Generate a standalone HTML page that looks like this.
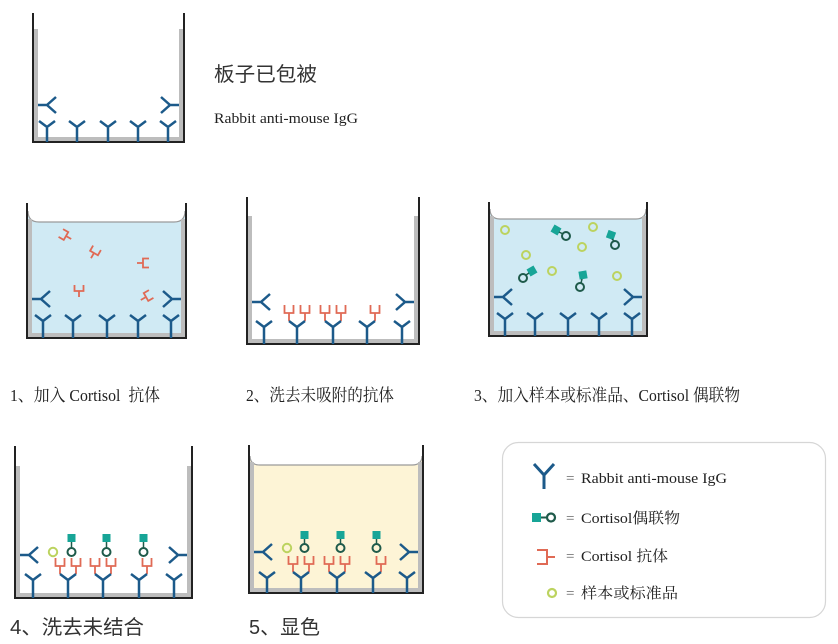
<!DOCTYPE html>
<html><head><meta charset="utf-8"><style>
html,body{margin:0;padding:0;background:#fff;}
svg{display:block;}
.serif{font-family:"Liberation Serif","Noto Serif CJK SC",serif;}
.sans{font-family:"Liberation Sans","Noto Sans CJK SC",sans-serif;}
</style></head><body>
<svg width="838" height="644" viewBox="0 0 838 644" xmlns="http://www.w3.org/2000/svg">
<defs>
<g id="fab"><path d="M0 6V0M-4.5 -6V0H4.5V-6" fill="none" stroke="#e06a55" stroke-width="1.8"/></g>
</defs>

<!-- ============ Well 0 ============ -->
<g>
<rect x="34" y="29" width="4" height="113" fill="#bdbdbd"/>
<rect x="179" y="29" width="4" height="113" fill="#bdbdbd"/>
<rect x="34" y="137" width="149" height="5" fill="#bdbdbd"/>
<polyline points="33,13 33,142 184,142 184,13" fill="none" stroke="#222" stroke-width="2"/>
<path d="M47 142V127M39 121L47 127L55 121M77 142V127M69 121L77 127L85 121M108 142V127M100 121L108 127L116 121M138 142V127M130 121L138 127L146 121M168 142V127M160 121L168 127L176 121M38 105H47M56 97L47 105L56 113M179 105H170M161 97L170 105L161 113" fill="none" stroke="#1c5a8a" stroke-width="2.5"/>
</g>
<text x="214" y="81" class="sans" font-size="20" fill="#333" textLength="103" lengthAdjust="spacingAndGlyphs">板子已包被</text>
<text x="214" y="123" class="serif" font-size="14.5" fill="#222" textLength="144" lengthAdjust="spacingAndGlyphs">Rabbit anti-mouse IgG</text>

<!-- ============ Well 1 ============ -->
<g>
<path d="M28 211Q28 222 39 222H174Q185 222 185 211V337H28Z" fill="#d0eaf4"/>
<path d="M28 211Q28 222 39 222H174Q185 222 185 211" fill="none" stroke="#9a9a9a" stroke-width="1.2"/>
<rect x="28" y="219" width="4" height="119" fill="#bdbdbd"/>
<rect x="181" y="219" width="4" height="119" fill="#bdbdbd"/>
<rect x="28" y="333" width="157" height="5" fill="#bdbdbd"/>
<polyline points="27,203 27,338 186,338 186,203" fill="none" stroke="#222" stroke-width="2"/>
<path d="M43 338V321M35 315L43 321L51 315M73 338V321M65 315L73 321L81 315M107 338V321M99 315L107 321L115 315M138 338V321M130 315L138 321L146 315M171 338V321M163 315L171 321L179 315M32 299H41M50 291L41 299L50 307M181 299H172M163 291L172 299L163 307" fill="none" stroke="#1c5a8a" stroke-width="2.5"/>
<use href="#fab" transform="translate(66,236) rotate(-60)"/>
<use href="#fab" transform="translate(94,253) rotate(30)"/>
<use href="#fab" transform="translate(143,263) rotate(90)"/>
<use href="#fab" transform="translate(79,291)"/>
<use href="#fab" transform="translate(146,297) rotate(60)"/>
</g>

<!-- ============ Well 2 ============ -->
<g>
<rect x="248" y="216" width="4" height="128" fill="#bdbdbd"/>
<rect x="414" y="216" width="4" height="128" fill="#bdbdbd"/>
<rect x="248" y="339" width="170" height="5" fill="#bdbdbd"/>
<polyline points="247,197 247,344 419,344 419,197" fill="none" stroke="#222" stroke-width="2"/>
<path d="M289 321V313M284.5 305V313H293.5V305M305 321V313M300.5 305V313H309.5V305M325 321V313M320.5 305V313H329.5V305M341 321V313M336.5 305V313H345.5V305M375 321V313M370.5 305V313H379.5V305" fill="none" stroke="#e06a55" stroke-width="1.8"/>
<path d="M264 344V327M256 321L264 327L272 321M297 344V327M289 321L297 327L305 321M333 344V327M325 321L333 327L341 321M367 344V327M359 321L367 327L375 321M402 344V327M394 321L402 327L410 321M252 302H261M270 294L261 302L270 310M414 302H405M396 294L405 302L396 310" fill="none" stroke="#1c5a8a" stroke-width="2.5"/>
</g>

<!-- ============ Well 3 ============ -->
<g>
<path d="M490 209Q490 219 500 219H636Q646 219 646 209V335H490Z" fill="#d0eaf4"/>
<path d="M490 209Q490 219 500 219H636Q646 219 646 209" fill="none" stroke="#9a9a9a" stroke-width="1.2"/>
<rect x="490" y="216" width="4" height="120" fill="#bdbdbd"/>
<rect x="642" y="216" width="4" height="120" fill="#bdbdbd"/>
<rect x="490" y="331" width="156" height="5" fill="#bdbdbd"/>
<polyline points="489,202 489,336 647,336 647,202" fill="none" stroke="#222" stroke-width="2"/>
<path d="M505 336V319M497 313L505 319L513 313M535 336V319M527 313L535 319L543 313M568 336V319M560 313L568 319L576 313M599 336V319M591 313L599 319L607 313M632 336V319M624 313L632 319L640 313M494 297H503M512 289L503 297L512 305M642 297H633M624 289L633 297L624 305" fill="none" stroke="#1c5a8a" stroke-width="2.5"/>
<g fill="none" stroke="#bcd35f" stroke-width="2">
<circle cx="505" cy="230" r="4"/><circle cx="593" cy="227" r="4"/><circle cx="582" cy="247" r="4"/>
<circle cx="526" cy="255" r="4"/><circle cx="552" cy="271" r="4"/><circle cx="617" cy="276" r="4"/>
</g>
<g fill="#17a597">
<rect x="552" y="226" width="8" height="8" transform="rotate(30 556 230)"/>
<rect x="607" y="231" width="8" height="8" transform="rotate(20 611 235)"/>
<rect x="528" y="267" width="8" height="8" transform="rotate(-30 532 271)"/>
<rect x="579" y="271" width="8" height="8" transform="rotate(-10 583 275)"/>
</g>
<path d="M559 232L563 234M612 239L614 241M529 273L526 275M582 279L581 283" stroke="#1e5a4a" stroke-width="1.5"/>
<g fill="none" stroke="#1e5a4a" stroke-width="2">
<circle cx="566" cy="236" r="4"/><circle cx="615" cy="245" r="4"/><circle cx="523" cy="278" r="4"/><circle cx="580" cy="287" r="4"/>
</g>
</g>

<!-- captions row 1 -->
<text x="10" y="401" class="serif" font-size="17" fill="#222" textLength="150" lengthAdjust="spacingAndGlyphs">1、加入 Cortisol&#160; 抗体</text>
<text x="246" y="401" class="serif" font-size="17" fill="#222" textLength="148" lengthAdjust="spacingAndGlyphs">2、洗去未吸附的抗体</text>
<text x="474" y="401" class="serif" font-size="17" fill="#222" textLength="266" lengthAdjust="spacingAndGlyphs">3、加入样本或标准品、Cortisol 偶联物</text>

<!-- ============ Well 4 ============ -->
<g>
<rect x="16" y="466" width="4" height="132" fill="#bdbdbd"/>
<rect x="187" y="466" width="4" height="132" fill="#bdbdbd"/>
<rect x="16" y="593" width="175" height="5" fill="#bdbdbd"/>
<polyline points="15,446 15,598 192,598 192,446" fill="none" stroke="#222" stroke-width="2"/>
<path d="M60 574V566M55.5 558V566H64.5V558M76 574V566M71.5 558V566H80.5V558M95 574V566M90.5 558V566H99.5V558M111 574V566M106.5 558V566H115.5V558M147 574V566M142.5 558V566H151.5V558" fill="none" stroke="#e06a55" stroke-width="1.8"/>
<path d="M33 598V580M25 574L33 580L41 574M68 598V580M60 574L68 580L76 574M103 598V580M95 574L103 580L111 574M139 598V580M131 574L139 580L147 574M174 598V580M166 574L174 580L182 574M20 555H29M38 547L29 555L38 563M187 555H178M169 547L178 555L169 563" fill="none" stroke="#1c5a8a" stroke-width="2.5"/>
<circle cx="53" cy="552" r="4.2" fill="none" stroke="#bcd35f" stroke-width="2"/>
<g fill="#17a597"><rect x="67.5" y="534" width="8" height="8"/><rect x="102.5" y="534" width="8" height="8"/><rect x="139.5" y="534" width="8" height="8"/></g>
<path d="M71.5 542V548M106.5 542V548M143.5 542V548" stroke="#1e5a4a" stroke-width="1.5"/>
<g fill="none" stroke="#1e5a4a" stroke-width="2"><circle cx="71.5" cy="552" r="4"/><circle cx="106.5" cy="552" r="4"/><circle cx="143.5" cy="552" r="4"/></g>
</g>
<text x="10" y="634" class="sans" font-size="20" fill="#333" textLength="134" lengthAdjust="spacingAndGlyphs">4、洗去未结合</text>

<!-- ============ Well 5 ============ -->
<g>
<path d="M250 456Q250 465 260 465H412Q422 465 422 456V592H250Z" fill="#fdf4d6"/>
<path d="M250 456Q250 465 260 465H412Q422 465 422 456" fill="none" stroke="#9a9a9a" stroke-width="1.2"/>
<rect x="250" y="462" width="4" height="131" fill="#bdbdbd"/>
<rect x="418" y="462" width="4" height="131" fill="#bdbdbd"/>
<rect x="250" y="588" width="172" height="5" fill="#bdbdbd"/>
<polyline points="249,445 249,593 423,593 423,445" fill="none" stroke="#222" stroke-width="2"/>
<path d="M293 572V564M288.5 556V564H297.5V556M309 572V564M304.5 556V564H313.5V556M329 572V564M324.5 556V564H333.5V556M345 572V564M340.5 556V564H349.5V556M381 572V564M376.5 556V564H385.5V556" fill="none" stroke="#e06a55" stroke-width="1.8"/>
<path d="M267 593V578M259 572L267 578L275 572M301 593V578M293 572L301 578L309 572M337 593V578M329 572L337 578L345 572M373 593V578M365 572L373 578L381 572M407 593V578M399 572L407 578L415 572M254 552H263M272 544L263 552L272 560M418 552H409M400 544L409 552L400 560" fill="none" stroke="#1c5a8a" stroke-width="2.5"/>
<circle cx="287" cy="548" r="4.2" fill="none" stroke="#bcd35f" stroke-width="2"/>
<g fill="#17a597"><rect x="300.5" y="531" width="8" height="8"/><rect x="336.5" y="531" width="8" height="8"/><rect x="372.5" y="531" width="8" height="8"/></g>
<path d="M304.5 539V544M340.5 539V544M376.5 539V544" stroke="#1e5a4a" stroke-width="1.5"/>
<g fill="none" stroke="#1e5a4a" stroke-width="2"><circle cx="304.5" cy="548" r="4"/><circle cx="340.5" cy="548" r="4"/><circle cx="376.5" cy="548" r="4"/></g>
</g>
<text x="249" y="634" class="sans" font-size="20" fill="#333" textLength="71" lengthAdjust="spacingAndGlyphs">5、显色</text>

<!-- ============ Legend ============ -->
<rect x="502.5" y="442.5" width="323" height="175" rx="16" ry="16" fill="#fff" stroke="#d6d6d6" stroke-width="1.2"/>
<path d="M544 489V475M534 464L544 475L554 464" fill="none" stroke="#1c5a8a" stroke-width="3"/>
<rect x="532" y="513" width="9" height="9" fill="#17a597"/>
<path d="M541 517.5H547" stroke="#1e5a4a" stroke-width="2"/>
<circle cx="551" cy="517.5" r="4" fill="none" stroke="#1e5a4a" stroke-width="2.2"/>
<path d="M537 550H547V564H537M547 557H555" fill="none" stroke="#e06a55" stroke-width="2"/>
<circle cx="552" cy="593" r="4" fill="none" stroke="#bcd35f" stroke-width="2.2"/>
<g class="serif" font-size="15" fill="#222">
<text x="566" y="483" fill="#666">=</text>
<text x="581" y="483" textLength="146" lengthAdjust="spacingAndGlyphs">Rabbit anti-mouse IgG</text>
<text x="566" y="523" fill="#666">=</text>
<text x="581" y="523" textLength="99" lengthAdjust="spacingAndGlyphs">Cortisol偶联物</text>
<text x="566" y="561" fill="#666">=</text>
<text x="581" y="561" textLength="87" lengthAdjust="spacingAndGlyphs">Cortisol 抗体</text>
<text x="566" y="598" fill="#666">=</text>
<text x="581" y="598" textLength="97" lengthAdjust="spacingAndGlyphs">样本或标准品</text>
</g>
</svg>
</body></html>
